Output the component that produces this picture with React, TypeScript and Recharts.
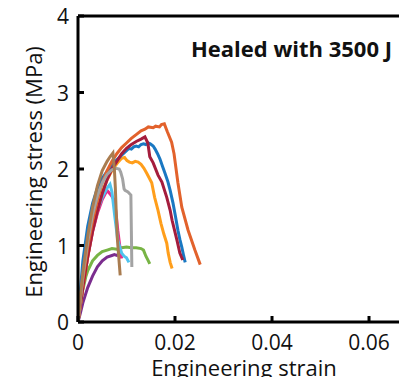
import { LineChart, Line, XAxis, YAxis, ReferenceLine } from 'recharts';

// axis ticks
const strainTicks = [0, 0.02, 0.04, 0.06];
const stressTicks = [0, 1, 2, 3, 4];

// [engineering strain, engineering stress (MPa)] for each healed sample
const sampleDarkOrange: [number, number][] = [
  [0, 0], [0.0005, 0.3], [0.001, 0.55], [0.002, 0.98], [0.003, 1.32], [0.004, 1.6],
  [0.005, 1.82], [0.006, 1.98], [0.007, 2.1], [0.008, 2.2], [0.009, 2.28], [0.01, 2.34],
  [0.011, 2.4], [0.012, 2.45], [0.013, 2.5], [0.0138, 2.52], [0.0145, 2.55], [0.0155, 2.54],
  [0.016, 2.56], [0.0168, 2.55], [0.0172, 2.58], [0.0178, 2.59], [0.0184, 2.49],
  [0.0193, 2.35], [0.0198, 2.2], [0.0206, 1.82], [0.0214, 1.5], [0.0227, 1.2],
  [0.0241, 0.94], [0.0252, 0.75],
];
const sampleBlue: [number, number][] = [
  [0, 0], [0.0005, 0.42], [0.001, 0.8], [0.002, 1.25], [0.003, 1.55], [0.004, 1.75],
  [0.005, 1.88], [0.006, 1.97], [0.007, 2.05], [0.008, 2.12], [0.009, 2.18], [0.01, 2.24],
  [0.0105, 2.27], [0.011, 2.26], [0.0115, 2.29], [0.012, 2.3], [0.0125, 2.29], [0.013, 2.32],
  [0.0135, 2.33], [0.014, 2.32], [0.0145, 2.34], [0.0149, 2.33], [0.0155, 2.3], [0.0159, 2.26],
  [0.0164, 2.2], [0.0169, 2.13], [0.0174, 2.04], [0.0179, 1.95], [0.0185, 1.84], [0.019, 1.72],
  [0.0196, 1.55], [0.0201, 1.38], [0.0206, 1.2], [0.021, 1.08], [0.0214, 0.98],
  [0.0218, 0.86], [0.0221, 0.78],
];
const sampleDarkRed: [number, number][] = [
  [0, 0], [0.001, 0.45], [0.002, 0.85], [0.003, 1.18], [0.004, 1.45], [0.005, 1.68],
  [0.006, 1.86], [0.007, 2.0], [0.008, 2.1], [0.009, 2.2], [0.01, 2.27], [0.011, 2.32],
  [0.012, 2.36], [0.013, 2.39], [0.0138, 2.42], [0.0144, 2.34], [0.0148, 2.16], [0.0155, 2.08],
  [0.0165, 1.92], [0.0173, 1.83], [0.0183, 1.63], [0.019, 1.46], [0.0194, 1.33],
  [0.0204, 1.07], [0.021, 0.9], [0.0216, 0.81],
];
const sampleOrange: [number, number][] = [
  [0, 0], [0.001, 0.45], [0.002, 0.85], [0.003, 1.2], [0.004, 1.48], [0.005, 1.7],
  [0.006, 1.86], [0.007, 1.98], [0.0078, 2.05], [0.0084, 2.1], [0.009, 2.14], [0.0096, 2.15],
  [0.0101, 2.11], [0.0106, 2.09], [0.0112, 2.08], [0.0118, 2.1], [0.0124, 2.09], [0.013, 2.06],
  [0.0136, 2.01], [0.0142, 1.94], [0.0152, 1.82], [0.0158, 1.63], [0.0165, 1.46],
  [0.0171, 1.29], [0.0177, 1.15], [0.0183, 1.03], [0.0186, 0.9], [0.019, 0.78], [0.0194, 0.7],
];
const sampleBrown: [number, number][] = [
  [0, 0], [0.0005, 0.35], [0.001, 0.65], [0.002, 1.12], [0.003, 1.5], [0.004, 1.78],
  [0.005, 1.98], [0.006, 2.1], [0.0066, 2.16], [0.0072, 2.21], [0.0075, 2.0], [0.0077, 1.75],
  [0.0079, 1.4], [0.0081, 1.1], [0.0084, 0.85], [0.0087, 0.61],
];
const sampleGray: [number, number][] = [
  [0, 0], [0.0005, 0.3], [0.001, 0.6], [0.002, 1.05], [0.003, 1.4], [0.004, 1.65],
  [0.005, 1.82], [0.006, 1.93], [0.007, 1.99], [0.0078, 2.01], [0.0085, 2.0], [0.0088, 1.96],
  [0.0092, 1.87], [0.0095, 1.74], [0.0097, 1.72], [0.0103, 1.7], [0.0109, 1.66],
  [0.011, 1.2], [0.0111, 0.72],
];
const sampleLightBlue: [number, number][] = [
  [0, 0], [0.001, 0.5], [0.002, 0.9], [0.003, 1.22], [0.004, 1.46], [0.005, 1.63],
  [0.006, 1.75], [0.0066, 1.8], [0.007, 1.7], [0.0076, 1.37], [0.0082, 1.07], [0.009, 0.9],
  [0.0095, 0.86], [0.01, 0.84], [0.0105, 0.78],
];
const samplePink: [number, number][] = [
  [0, 0], [0.001, 0.45], [0.002, 0.85], [0.003, 1.18], [0.004, 1.42], [0.005, 1.6],
  [0.006, 1.72], [0.0068, 1.66], [0.0074, 1.6], [0.0078, 1.45], [0.0082, 1.2], [0.0086, 1.0],
  [0.009, 0.83],
];
const samplePurple: [number, number][] = [
  [0, 0], [0.0005, 0.12], [0.001, 0.25], [0.002, 0.45], [0.003, 0.6], [0.004, 0.72],
  [0.005, 0.8], [0.006, 0.85], [0.007, 0.87], [0.0075, 0.88], [0.008, 0.87], [0.0085, 0.89],
  [0.009, 0.88],
];
const sampleGreen: [number, number][] = [
  [0, 0], [0.0005, 0.22], [0.001, 0.42], [0.0016, 0.59], [0.002, 0.67], [0.003, 0.8],
  [0.004, 0.87], [0.005, 0.92], [0.006, 0.94], [0.007, 0.96], [0.008, 0.95], [0.009, 0.97],
  [0.01, 0.98], [0.011, 0.97], [0.012, 0.97], [0.013, 0.96], [0.0135, 0.94], [0.014, 0.86],
  [0.0145, 0.8], [0.0148, 0.76],
];

const series = [
  { name: 'purple', color: '#7b2d8e', points: samplePurple },
  { name: 'green', color: '#78b445', points: sampleGreen },
  { name: 'pink', color: '#ec2a8a', points: samplePink },
  { name: 'lightBlue', color: '#4fc3ee', points: sampleLightBlue },
  { name: 'orange', color: '#ff9e1b', points: sampleOrange },
  { name: 'blue', color: '#1a78c2', points: sampleBlue },
  { name: 'darkRed', color: '#a41d3d', points: sampleDarkRed },
  { name: 'darkOrange', color: '#e2622c', points: sampleDarkOrange },
  { name: 'gray', color: '#a3a3a3', points: sampleGray },
  { name: 'brown', color: '#a97c50', points: sampleBrown },
];

const FONT = '"Open Sans", "Noto Sans", sans-serif';

const BottomTick = ({ x, y, payload }: any) => (
  <g>
    <line x1={x} y1={y} x2={x} y2={y - 6} stroke="#000" strokeWidth={3} />
    <text x={x} y={y + 28} textAnchor="middle" fontSize={21} fontFamily={FONT} fill="#111">
      {payload.value}
    </text>
  </g>
);

const TopTick = ({ x, y }: any) => (
  <line x1={x} y1={y} x2={x} y2={y + 6} stroke="#000" strokeWidth={3} />
);

const LeftTick = ({ x, y, payload }: any) => (
  <g>
    <line x1={x} y1={y} x2={x + 6} y2={y} stroke="#000" strokeWidth={3} />
    <text x={x - 9} y={y + 8} textAnchor="end" fontSize={21} fontFamily={FONT} fill="#111">
      {payload.value}
    </text>
  </g>
);

export default function App() {
  return (
    <div style={{ position: 'relative', width: 407, height: 385, overflow: 'hidden', margin: -8, background: '#fff' }}>
      <LineChart width={410} height={385} margin={{ top: 16, right: 0, bottom: 0, left: 0 }}>
        <XAxis
          type="number"
          dataKey="strain"
          domain={[0, 0.06845]}
          ticks={strainTicks}
          allowDataOverflow
          height={63}
          tickSize={0}
          tickMargin={0}
          tickLine={false}
          axisLine={{ stroke: '#000', strokeWidth: 3 }}
          tick={<BottomTick />}
        />
        <XAxis
          xAxisId="top"
          orientation="top"
          type="number"
          dataKey="strain"
          domain={[0, 0.06845]}
          ticks={strainTicks}
          height={0}
          tickSize={0}
          tickMargin={0}
          tickLine={false}
          axisLine={false}
          tick={<TopTick />}
        />
        <YAxis
          type="number"
          domain={[0, 4]}
          ticks={stressTicks}
          width={78}
          tickSize={0}
          tickMargin={0}
          tickLine={false}
          axisLine={{ stroke: '#000', strokeWidth: 3 }}
          tick={<LeftTick />}
        />
        <ReferenceLine y={4} stroke="#000" strokeWidth={3} />
        {series.map((s) => (
          <Line
            key={s.name}
            data={s.points.map(([strain, stress]) => ({ strain, stress }))}
            dataKey="stress"
            type="linear"
            stroke={s.color}
            strokeWidth={3}
            dot={false}
            activeDot={false}
            isAnimationActive={false}
          />
        ))}
      </LineChart>
      {/* axis titles and panel title */}
      <svg width={407} height={385} style={{ position: 'absolute', left: 0, top: 0, pointerEvents: 'none' }}>
        <text x={244} y={376} textAnchor="middle" fontSize={22} fontFamily={FONT} fill="#111">
          Engineering strain
        </text>
        <text
          x={42}
          y={172}
          transform="rotate(-90 42 172)"
          textAnchor="middle"
          fontSize={22}
          fontFamily={FONT}
          fill="#111"
        >
          Engineering stress (MPa)
        </text>
        <text x={392} y={57} textAnchor="end" fontSize={22} fontWeight={700} fontFamily={FONT} fill="#111">
          Healed with 3500 J
        </text>
      </svg>
    </div>
  );
}
